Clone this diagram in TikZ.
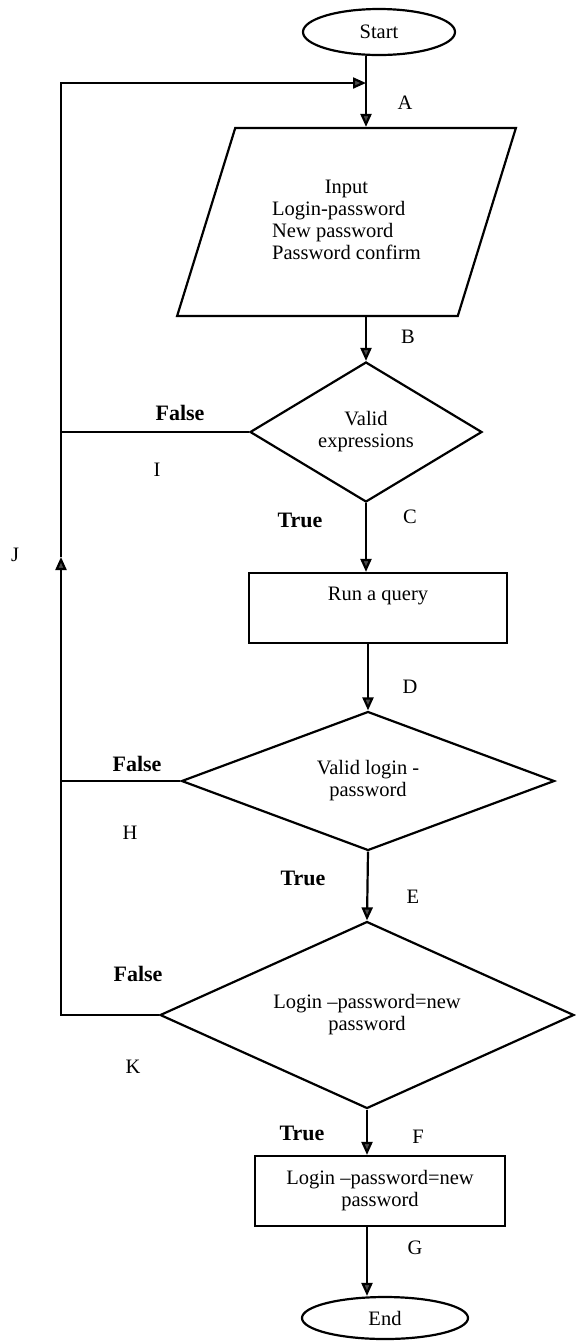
\documentclass[tikz,border=0pt]{standalone}
\usepackage{fontspec}
\setmainfont{Liberation Serif}
\usetikzlibrary{arrows.meta,positioning,shapes.geometric}

\tikzset{
  base/.style={draw,line width=1.1pt,inner sep=0pt,align=center,font=\fontsize{10.25}{11}\selectfont},
  term/.style={base,ellipse},
  io/.style={base,trapezium,trapezium left angle=66.2,trapezium right angle=113.8,trapezium stretches=true},
  dec/.style={base,diamond,aspect=2},
  proc/.style={base,rectangle},
  wire/.style={line width=1.1pt},
  arr/.style={wire,-{Triangle[length=6.5pt,width=5.5pt,fill=black!70]}},
  lbl/.style={font=\fontsize{10.25}{11}\selectfont},
  tf/.style={font=\fontsize{11}{12}\selectfont\bfseries},
}

\begin{document}
\begin{tikzpicture}[x=0.5pt,y=-0.5pt]
  \useasboundingbox (0,0) rectangle (576,1341);
  % main column
  \node[term,minimum width=76pt,minimum height=23pt] (start) at (379,32) {Start};
  \node[io,minimum width=169.5pt,minimum height=94pt] (par) at (346.5,222)
    {\begin{tabular}{@{}l@{}}\multicolumn{1}{@{}c@{}}{Input}\\Login-password\\New password\\Password confirm\end{tabular}};
  \node[dec,minimum width=116pt,minimum height=70pt] (d1) at (366,432) {Valid\\expressions};
  \node[proc,minimum width=129pt,minimum height=35pt] (q) at (378,608) {Run a query\\\strut};
  \node[dec,minimum width=186.5pt,minimum height=69.5pt] (d2) at (368,781) {Valid login -\\password};
  \node[dec,minimum width=207pt,minimum height=93.5pt] (d3) at (367,1015) {Login –password=new\\password};
  \node[proc,minimum width=125pt,minimum height=35pt] (fin) at (380,1191) {Login –password=new\\password};
  \node[term,minimum width=83pt,minimum height=21pt] (end) at (385,1318) {End};

  \draw[arr] (start.south -| d1.north) -- (par.north -| d1.north);
  \draw[arr] (par.south -| d1.north) -- (d1.north);
  \draw[arr] (d1.south) -- (q.north -| d1.south);
  \draw[arr] (q.south -| d2.north) -- (d2.north);
  \draw[arr] (d2.south) -- (d3.north);
  \draw[arr] (d3.south) -- (fin.north -| d3.south);
  \draw[arr] (fin.south -| d3.south) -- (end.north -| d3.south);

  % false branches back to the top
  \coordinate (jtip) at (61,557);
  \coordinate (ltop) at (61,83);
  \draw[arr] (d3.west) -- (d3.west -| jtip) -- (jtip);
  \draw[arr] (jtip) -- (ltop) -- (ltop -| d1.north);
  \draw[wire] (d1.west) -- (d1.west -| jtip);
  \draw[wire] (d2.west) -- (d2.west -| jtip);

  % edge letters
  \node[lbl] (lA) at (405,103) {A};
  \node[lbl] (lB) at (408,337) {B};
  \node[lbl] (lC) at (410,517) {C};
  \node[lbl] (lD) at (410,687) {D};
  \node[lbl] (lE) at (413,897) {E};
  \node[lbl] (lF) at (418,1137) {F};
  \node[lbl] (lG) at (415,1248) {G};
  \node[lbl] (lI) at (157,470) {I};
  \node[lbl] (lH) at (130,833) {H};
  \node[lbl] (lK) at (133,1067) {K};
  \node[lbl] (lJ) at (15,555) {J};

  \node[tf] (t1) at (300,520) {True};
  \node[tf] (t2) at (303,878) {True};
  \node[tf] (t3) at (302,1133) {True};
  \node[tf] (f1) at (180,413) {False};
  \node[tf] (f2) at (137,764) {False};
  \node[tf] (f3) at (138,974) {False};
\end{tikzpicture}
\end{document}
